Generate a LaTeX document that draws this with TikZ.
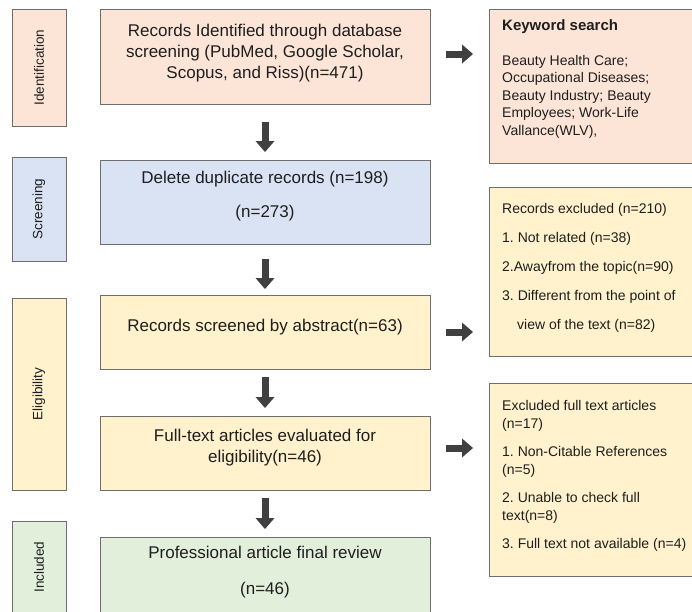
\documentclass[tikz,border=0pt]{standalone}
\usepackage{fontspec}
\setmainfont{Liberation Sans}
\usetikzlibrary{arrows.meta,calc}
\definecolor{peach}{RGB}{252,229,214}
\definecolor{paleblue}{RGB}{218,227,243}
\definecolor{paleyellow}{RGB}{255,242,204}
\definecolor{palegreen}{RGB}{226,239,218}
\definecolor{bordergray}{RGB}{110,110,110}
\definecolor{arrowgray}{RGB}{64,64,64}
\definecolor{txt}{RGB}{30,30,30}
\frenchspacing
\begin{document}
\begin{tikzpicture}[x=1pt,y=-1pt,
  box/.style={draw=bordergray, line width=0.9pt, inner sep=0pt, outer sep=0pt, anchor=north west},
  stagebox/.style={box, minimum width=54pt},
  mainbox/.style={box, minimum width=330pt},
  sidebox/.style={box, minimum width=220pt},
  stagetext/.style={rotate=90, text=txt, font=\fontsize{13.5}{16}\selectfont},
  maintext/.style={text=txt, align=center, inner sep=0pt},
  sidetext/.style={text=txt, align=left, inner sep=0pt, anchor=north west},
  blockarrow/.style={draw=arrowgray, line width=7pt, -{Triangle[width=19pt,length=11pt,line width=0pt,fill=arrowgray]}}
]
\useasboundingbox (0,0) rectangle (692,611);
\clip (0,0) rectangle (692,611);
\frenchspacing

% stage boxes
\node[stagebox, fill=peach, minimum height=117pt] (sid) at (12,9) {};
\node[stagebox, fill=paleblue, minimum height=104pt] (ssc) at (12,157) {};
\node[stagebox, fill=paleyellow, minimum height=192pt] (sel) at (12,298) {};
\node[stagebox, fill=palegreen, minimum height=100pt] (sin) at (12,521) {};
\node[stagetext] (tsid) at (sid.center) {Identification};
\node[stagetext] (tssc) at (ssc.center) {Screening};
\node[stagetext] (tsel) at (sel.center) {Eligibility};
\node[stagetext] (tsin) at (39,567) {Included};

% main boxes
\node[mainbox, fill=peach, minimum height=95pt] (b1) at (100,9) {};
\node[mainbox, fill=paleblue, minimum height=84pt] (b2) at (100,160) {};
\node[mainbox, fill=paleyellow, minimum height=74pt] (b3) at (100,295) {};
\node[mainbox, fill=paleyellow, minimum height=74pt] (b4) at (100,416) {};
\node[mainbox, fill=palegreen, minimum height=90pt] (b5) at (100,537) {};

\node[maintext, font=\fontsize{17}{21}\selectfont] (t1) at (265,53) {Records Identified through database\\screening (PubMed, Google Scholar,\\Scopus, and Riss)(n=471)};
\node[maintext, font=\fontsize{17}{34}\selectfont] (t2) at (265,196) {Delete duplicate records (n=198)\\(n=273)};
\node[maintext, font=\fontsize{17}{21}\selectfont] (t3) at (265,327) {Records screened by abstract(n=63)};
\node[maintext, font=\fontsize{17}{21}\selectfont] (t4) at (265,447.5) {Full-text articles evaluated for\\eligibility(n=46)};
\node[maintext, font=\fontsize{17}{36}\selectfont] (t5) at (265,572) {Professional article final review\\(n=46)};

% side boxes
\node[sidebox, fill=peach, minimum height=154pt] (k) at (489,9) {};
\node[sidebox, fill=paleyellow, minimum height=169pt] (r2) at (489,187) {};
\node[sidebox, fill=paleyellow, minimum height=193pt] (r3) at (489,383) {};

\node[text=txt, inner sep=0pt, anchor=west, font=\bfseries\fontsize{15}{18}\selectfont] (kt) at (502,27) {Keyword search};
\node[sidetext, font=\fontsize{14}{17.5}\selectfont] (kb) at (502,55) {Beauty Health Care;\\Occupational Diseases;\\Beauty Industry; Beauty\\Employees; Work-Life\\Vallance(WLV),};
\node[sidetext, font=\fontsize{14}{29}\selectfont] (rt2) at (502,203) {Records excluded (n=210)\\1. Not related (n=38)\\2.Awayfrom the topic(n=90)\\3. Different from the point of\\\hspace*{15pt}view of the text (n=82)};
\node[sidetext, font=\fontsize{14}{18}\selectfont] (rt3) at (502,400) {Excluded full text articles\\(n=17)\\[10pt]1. Non-Citable References\\(n=5)\\[10pt]2. Unable to check full\\text(n=8)\\[10pt]3. Full text not available (n=4)};

% arrows
\draw[blockarrow, shorten <=18pt, shorten >=8pt] (b1.south) -- (b2.north);
\draw[blockarrow, shorten <=15pt, shorten >=6pt] (b2.south) -- (b3.north);
\draw[blockarrow, shorten <=8pt, shorten >=8pt] (b3.south) -- (b4.north);
\draw[blockarrow, shorten <=8pt, shorten >=8pt] (b4.south) -- (b5.north);
\draw[blockarrow, shorten <=16pt, shorten >=16pt] ($(b1.east)+(0,-2.5)$) -- ($(b1.east -| k.west)+(0,-2.5)$);
\draw[blockarrow, shorten <=16pt, shorten >=16pt] (b3.east) -- (b3.east -| r2.west);
\draw[blockarrow, shorten <=16pt, shorten >=16pt] ($(b4.east)+(0,-5)$) -- ($(b4.east -| r3.west)+(0,-5)$);
\end{tikzpicture}
\end{document}
